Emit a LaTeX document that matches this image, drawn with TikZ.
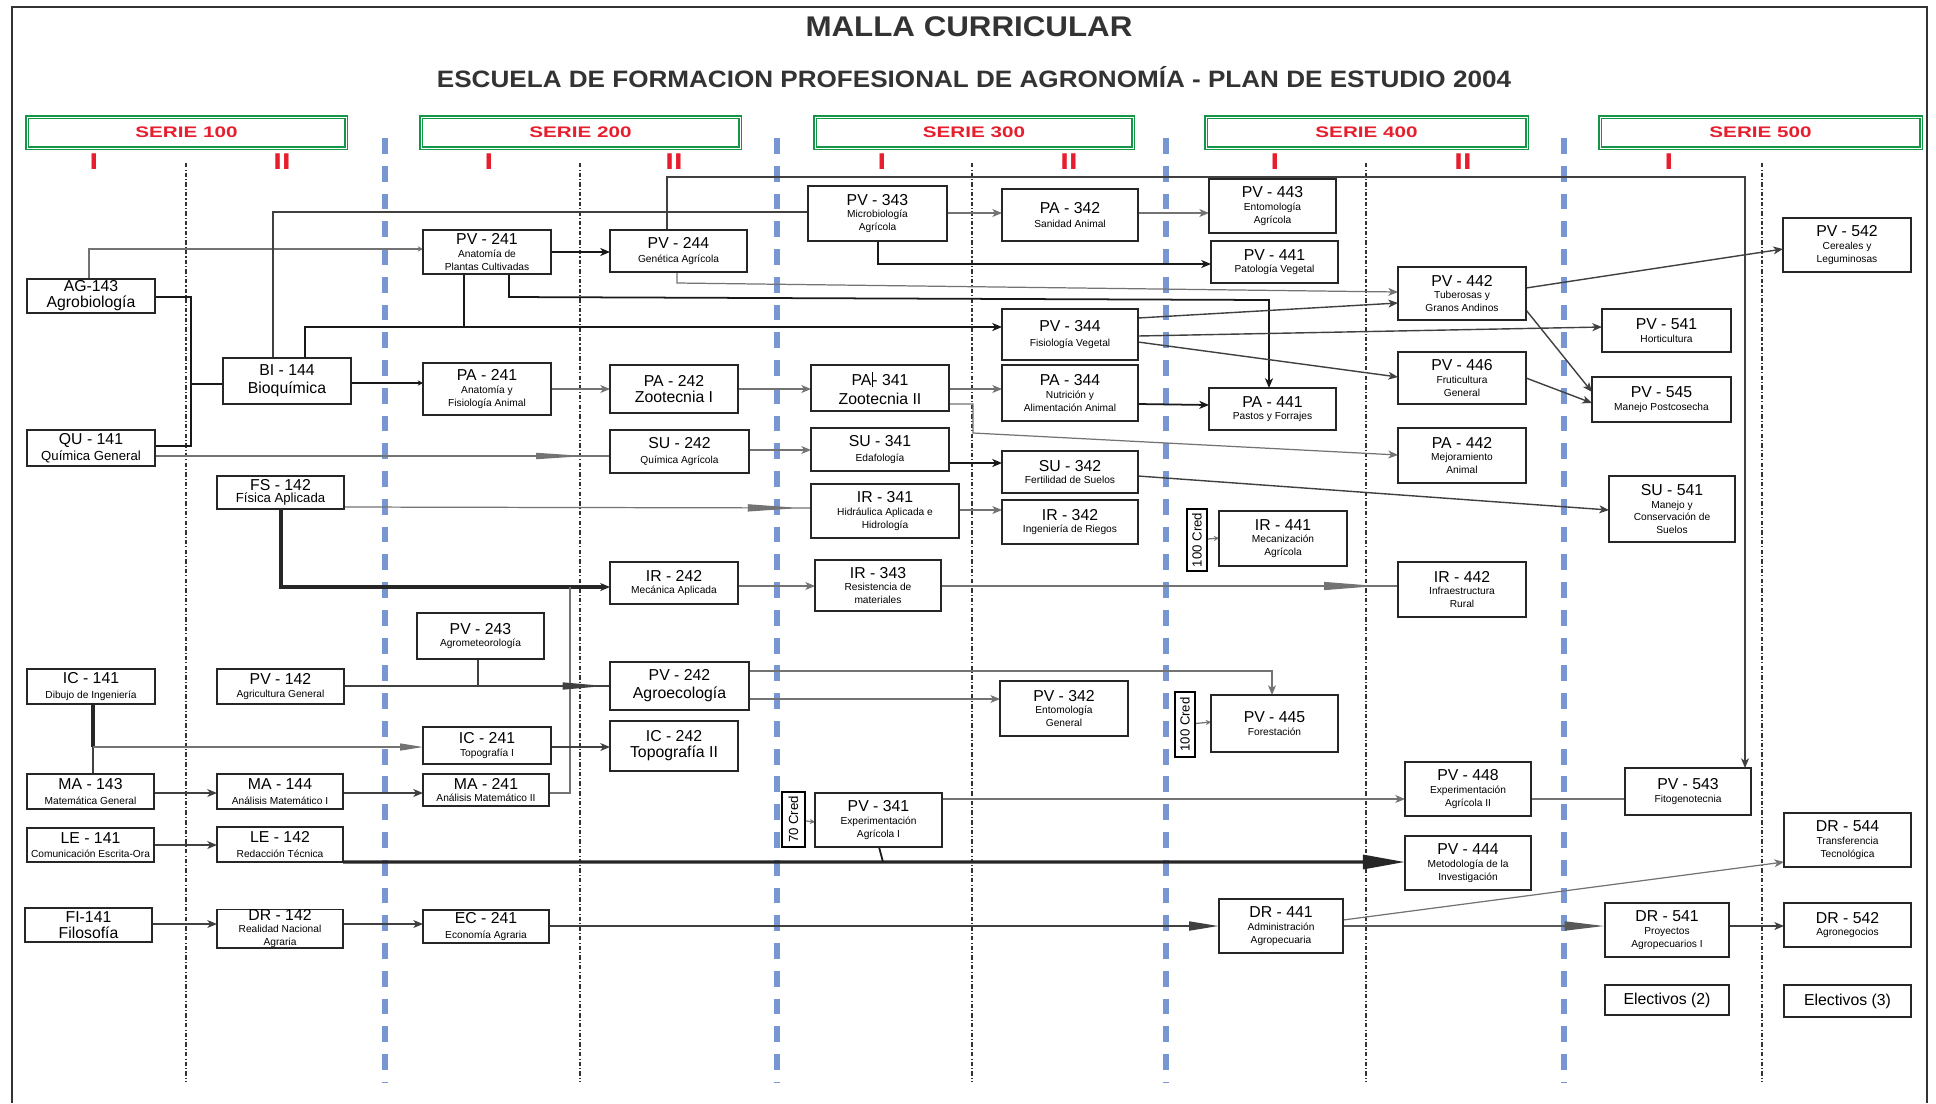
\documentclass[tikz,border=0pt]{standalone}
\usepackage{fontspec}
\setmainfont{Liberation Sans}
\newfontfamily\widefont[FakeStretch=1.35]{Liberation Sans}
\newfontfamily\titlefont[FakeStretch=1.1]{Liberation Sans}
\usetikzlibrary{arrows.meta,decorations.markings}
\pgfdeclarelayer{back}
\pgfdeclarelayer{mid}
\pgfsetlayers{back,mid,main}
\definecolor{sred}{RGB}{230,30,45}
\definecolor{sgreen}{RGB}{20,150,70}
\definecolor{sblue}{RGB}{120,150,210}
\newcommand\tcode[1]{{\fontsize{9}{9}\selectfont #1}}
\newcommand\tsmall[1]{{\fontsize{5.8}{6}\selectfont #1}}
\newcommand\tmid[1]{{\fontsize{7.5}{8}\selectfont #1}}
\newcommand\crsbox[6]{\node[crs, minimum width={(#4-#2)*0.02cm}, minimum height={(#5-#3)*0.02cm}] (#1) at ({(#2+#4)/2},{(#3+#5)/2}) {#6};}
\tikzset{
  crs/.style={draw=black!85, line width=0.9pt, fill=white, inner sep=0pt, outer sep=0pt, align=center, font=\fontsize{6}{7.2}\selectfont},
  cred/.style={draw=black, line width=1.1pt, fill=white, rotate=90, inner sep=0pt, outer sep=0pt, font=\fontsize{7.5}{8}\selectfont},
  serie/.style={draw=sgreen, double=white, line width=0.95pt, double distance=0.5pt, inner sep=0pt, text=sred, font=\widefont\bfseries\fontsize{8.7}{10}\selectfont},
  rom/.style={text=sred, font=\widefont\bfseries\fontsize{13}{13}\selectfont},
  bdash/.style={draw=sblue, line width=3pt, dash pattern=on 9pt off 6.8pt},
  ddot/.style={draw=black!80, line width=0.6pt, dash pattern=on 2.5pt off 1.2pt on 0.6pt off 1.2pt},
  gl/.style={line width=0.7pt, draw=black!55},
  dl/.style={line width=0.8pt, draw=black!75},
  bl/.style={line width=1pt, draw=black!90},
  thk/.style={line width=1.8pt, draw=black!85},
  ar/.style={-{Stealth[length=5.5pt,width=4.5pt,inset=1.5pt]}},
  sar/.style={-{Stealth[length=3pt,width=3pt]}},
  wedge/.style n args={3}{postaction={decorate}, decoration={markings, mark=at position #1 with {\arrow{Triangle[length=#2,width=#3]}}}},
}
\begin{document}
\begin{tikzpicture}[x=0.02cm,y=-0.02cm]
\useasboundingbox (0,0) rectangle (1936,1103);

% ---------- titles and headers
\node[font=\titlefont\bfseries\fontsize{16.2}{17}\selectfont, text=black!80] (title) at (969,27) {MALLA CURRICULAR};
\node[font=\titlefont\bfseries\fontsize{13.5}{15}\selectfont, text=black!80] (subtitle) at (974,77) {ESCUELA DE FORMACION PROFESIONAL DE AGRONOMÍA - PLAN DE ESTUDIO 2004};

\node[serie, minimum width={319*0.02cm}, minimum height={31*0.02cm}] (s100) at (186.5,132.5) {SERIE 100};
\node[serie, minimum width={319*0.02cm}, minimum height={31*0.02cm}] (s200) at (580.5,132.5) {SERIE 200};
\node[serie, minimum width={318*0.02cm}, minimum height={31*0.02cm}] (s300) at (974,132.5) {SERIE 300};
\node[serie, minimum width={321*0.02cm}, minimum height={31*0.02cm}] (s400) at (1366.5,132.5) {SERIE 400};
\node[serie, minimum width={321*0.02cm}, minimum height={31*0.02cm}] (s500) at (1760.5,132.5) {SERIE 500};

\node[rom] (r1a) at (94,162) {I};
\node[rom] (r1b) at (282,162) {II};
\node[rom] (r2a) at (489,162) {I};
\node[rom] (r2b) at (674,162) {II};
\node[rom] (r3a) at (882,162) {I};
\node[rom] (r3b) at (1069,162) {II};
\node[rom] (r4a) at (1275,162) {I};
\node[rom] (r4b) at (1463,162) {II};
\node[rom] (r5a) at (1669,162) {I};

% ---------- frame and guide lines
\begin{pgfonlayer}{back}
\draw[line width=1.6pt, black!80] (12,1103) -- (12,7) -- (1927,7) -- (1927,1103);
\foreach \xx in {385,777,1166,1564} {\draw[bdash] (\xx,138) -- (\xx,1082);}
\foreach \xx in {186,580,972,1366,1762} {\draw[ddot] (\xx,163) -- (\xx,1082);}
\end{pgfonlayer}

% ---------- SERIE 100
\crsbox{ag}{27}{279}{155}{313}{\tcode{AG-143}\\[2pt]\tcode{Agrobiología}}
\crsbox{qu}{27}{430}{155}{466}{\tcode{QU - 141}\\[1pt]\tmid{Química General}}
\crsbox{bi}{223}{358}{351}{404}{\tcode{BI - 144}\\[3pt]\tcode{Bioquímica}}
\crsbox{fs}{217}{476}{344}{509}{\tcode{FS - 142}\\\tmid{Física Aplicada}}
\crsbox{ic141}{27}{669}{155}{704}{\tcode{IC - 141}\\[1pt]\tsmall{Dibujo de Ingeniería}}
\crsbox{pv142}{217}{669}{344}{704}{\tcode{PV - 142}\\\tsmall{Agricultura General}}
\crsbox{ma143}{27}{774}{154}{809}{\tcode{MA - 143}\\[1pt]\tsmall{Matemática General}}
\crsbox{ma144}{217}{774}{343}{809}{\tcode{MA - 144}\\[1pt]\tsmall{Análisis Matemático I}}
\crsbox{le141}{27}{828}{154}{862}{\tcode{LE - 141}\\[1pt]\tsmall{Comunicación Escrita-Ora}}
\crsbox{le142}{217}{827}{343}{862}{\tcode{LE - 142}\\[1pt]\tsmall{Redacción Técnica}}
\crsbox{fi141}{25}{908}{152}{942}{\tcode{FI-141}\\[2pt]\tcode{Filosofía}}
\crsbox{dr142}{217}{910}{343}{947}{\tcode{DR - 142}\\\tsmall{Realidad Nacional}\\\tsmall{Agraria}}

% ---------- SERIE 200
\crsbox{pv241}{423}{230}{551}{274}{\tcode{PV - 241}\\\tsmall{Anatomía de}\\\tsmall{Plantas Cultivadas}}
\crsbox{pa241}{423}{363}{551}{415}{\tcode{PA - 241}\\\tsmall{Anatomía y}\\\tsmall{Fisiología Animal}}
\crsbox{pv243}{417}{613}{544}{659}{\tcode{PV - 243}\\\tsmall{Agrometeorología}}
\crsbox{ic241}{423}{727}{551}{764}{\tcode{IC - 241}\\\tsmall{Topografía I}}
\crsbox{ma241}{423}{774}{549}{806}{\tcode{MA - 241}\\\tsmall{Análisis Matemático II}}
\crsbox{ec241}{423}{910}{549}{943}{\tcode{EC - 241}\\[1pt]\tsmall{Economía Agraria}}
\crsbox{pv244}{610}{230}{747}{272}{\tcode{PV - 244}\\[1pt]\tsmall{Genética Agrícola}}
\crsbox{pa242}{610}{365}{738}{413}{\tcode{PA - 242}\\[2pt]\tcode{Zootecnia I}}
\crsbox{su242}{610}{430}{749}{473}{\tcode{SU - 242}\\[1pt]\tsmall{Química Agrícola}}
\crsbox{ir242}{610}{562}{738}{604}{\tcode{IR - 242}\\\tsmall{Mecánica Aplicada}}
\crsbox{pv242}{610}{662}{749}{710}{\tcode{PV - 242}\\[3pt]\tcode{Agroecología}}
\crsbox{ic242}{610}{721}{738}{771}{\tcode{IC - 242}\\[2pt]\tcode{Topografía II}}

% ---------- SERIE 300
\crsbox{pv343}{808}{186}{947}{241}{\tcode{PV - 343}\\\tsmall{Microbiología}\\\tsmall{Agrícola}}
\crsbox{pa341}{811}{365}{949}{411}{\tcode{PA\rule[-1pt]{0.5pt}{9pt}- 341}\\[2pt]\tcode{Zootecnia II}}
\crsbox{su341}{811}{428}{949}{471}{\tcode{SU - 341}\\[1pt]\tsmall{Edafología}}
\crsbox{ir341}{811}{484}{959}{538}{\tcode{IR - 341}\\\tsmall{Hidráulica Aplicada e}\\\tsmall{Hidrología}}
\crsbox{ir343}{815}{560}{941}{611}{\tcode{IR - 343}\\\tsmall{Resistencia de}\\\tsmall{materiales}}
\crsbox{pv341}{815}{793}{942}{847}{\tcode{PV - 341}\\\tsmall{Experimentación}\\\tsmall{Agrícola I}}
\crsbox{pa342}{1002}{189}{1138}{241}{\tcode{PA - 342}\\[1pt]\tsmall{Sanidad Animal}}
\crsbox{pv344}{1002}{309}{1138}{360}{\tcode{PV - 344}\\[1pt]\tsmall{Fisiología Vegetal}}
\crsbox{pa344}{1002}{365}{1138}{421}{\tcode{PA - 344}\\\tsmall{Nutrición y}\\\tsmall{Alimentación Animal}}
\crsbox{su342}{1002}{451}{1138}{493}{\tcode{SU - 342}\\\tsmall{Fertilidad de Suelos}}
\crsbox{ir342}{1002}{500}{1138}{544}{\tcode{IR - 342}\\\tsmall{Ingeniería de Riegos}}
\crsbox{pv342}{1000}{681}{1128}{736}{\tcode{PV - 342}\\\tsmall{Entomología}\\\tsmall{General}}
\node[cred, minimum width={55*0.02cm}, minimum height={23*0.02cm}] (cred70) at (793.5,819.5) {70 Cred};

% ---------- SERIE 400
\crsbox{pv443}{1209}{179}{1336}{233}{\tcode{PV - 443}\\\tsmall{Entomología}\\\tsmall{Agrícola}}
\crsbox{pv441}{1211}{241}{1338}{283}{\tcode{PV - 441}\\\tsmall{Patología Vegetal}}
\crsbox{pa441}{1209}{388}{1336}{430}{\tcode{PA - 441}\\\tsmall{Pastos y Forrajes}}
\crsbox{ir441}{1219}{511}{1347}{566}{\tcode{IR - 441}\\\tsmall{Mecanización}\\\tsmall{Agrícola}}
\crsbox{pv445}{1211}{695}{1338}{752}{\tcode{PV - 445}\\\tsmall{Forestación}}
\crsbox{dr441}{1219}{899}{1343}{953}{\tcode{DR - 441}\\\tsmall{Administración}\\\tsmall{Agropecuaria}}
\crsbox{pv442}{1398}{267}{1526}{320}{\tcode{PV - 442}\\\tsmall{Tuberosas y}\\\tsmall{Granos Andinos}}
\crsbox{pv446}{1398}{352}{1526}{404}{\tcode{PV - 446}\\\tsmall{Fruticultura}\\\tsmall{General}}
\crsbox{pa442}{1398}{428}{1526}{483}{\tcode{PA - 442}\\\tsmall{Mejoramiento}\\\tsmall{Animal}}
\crsbox{ir442}{1398}{562}{1526}{617}{\tcode{IR - 442}\\\tsmall{Infraestructura}\\\tsmall{Rural}}
\crsbox{pv448}{1405}{762}{1531}{816}{\tcode{PV - 448}\\\tsmall{Experimentación}\\\tsmall{Agrícola II}}
\crsbox{pv444}{1405}{836}{1531}{890}{\tcode{PV - 444}\\\tsmall{Metodología de la}\\\tsmall{Investigación}}
\node[cred, minimum width={62*0.02cm}, minimum height={20*0.02cm}] (cred1) at (1197,540) {100 Cred};
\node[cred, minimum width={65*0.02cm}, minimum height={20*0.02cm}] (cred2) at (1185,724.5) {100 Cred};

% ---------- SERIE 500
\crsbox{pv541}{1602}{309}{1731}{352}{\tcode{PV - 541}\\\tsmall{Horticultura}}
\crsbox{pv545}{1592}{377}{1731}{422}{\tcode{PV - 545}\\\tsmall{Manejo Postcosecha}}
\crsbox{su541}{1609}{476}{1735}{542}{\tcode{SU - 541}\\\tsmall{Manejo y}\\\tsmall{Conservación de}\\\tsmall{Suelos}}
\crsbox{pv543}{1625}{768}{1751}{815}{\tcode{PV - 543}\\\tsmall{Fitogenotecnia}}
\crsbox{dr541}{1605}{903}{1729}{957}{\tcode{DR - 541}\\\tsmall{Proyectos}\\\tsmall{Agropecuarios I}}
\crsbox{el2}{1605}{985}{1729}{1015}{\tcode{Electivos (2)}}
\crsbox{pv542}{1783}{218}{1911}{272}{\tcode{PV - 542}\\\tsmall{Cereales y}\\\tsmall{Leguminosas}}
\crsbox{dr544}{1784}{813}{1911}{867}{\tcode{DR - 544}\\\tsmall{Transferencia}\\\tsmall{Tecnológica}}
\crsbox{dr542}{1784}{903}{1911}{947}{\tcode{DR - 542}\\\tsmall{Agronegocios}}
\crsbox{el3}{1784}{985}{1911}{1017}{\tcode{Electivos (3)}}

% ---------- connectors
\begin{pgfonlayer}{mid}
\draw[gl,sar] (ag.north -| 89,0) |- (pv241.west |- 0,249);
\draw[bl] (ag.east |- 0,297) -| (191,446) -- (qu.east |- 0,446);
\draw[bl] (191,384) -- (bi.west |- 0,384);
\draw[dl] (bi.north -| 273,0) |- (pv343.west |- 0,212);
\draw[bl,ar] (bi.north -| 305,0) |- (pv344.west |- 0,327);
\draw[bl] (pv241.south -| 464,0) -- (464,327);
\draw[bl,sar] (bi.east |- 0,383) -- (pa241.west |- 0,383);
\draw[gl,wedge={-14pt}{28pt}{3.5pt}] (qu.east |- 0,456) -- (su242.west |- 0,456);
\draw[gl,wedge={-6pt}{30pt}{4pt}] (fs.east |- 0,507) -- (ir341.west |- 0,508);
\draw[thk,ar] (fs.south -| 281,0) |- (ir242.west |- 0,587);
\draw[gl] (ma241.east |- 0,793) -| (570,587);

\draw[bl,ar] (pv241.east |- 0,252) -- (pv244.west |- 0,252);
\draw[dl,ar] (pv244.north -| 667,0) |- (1745,177) -- (pv543.north -| 1745,0);
\draw[gl,ar] (pv244.south -| 677,0) -- (677,283) -- (pv442.west |- 0,292);
\draw[bl,ar] (pv241.south -| 509,0) -- (509,297) -- (1269,300) -- (pa441.north -| 1269,0);
\draw[gl,ar] (pv343.east |- 0,213) -- (pa342.west |- 0,213);
\draw[gl,ar] (pa342.east |- 0,213) -- (pv443.west |- 0,213);
\draw[bl,ar] (pv343.south -| 878,0) |- (pv441.west |- 0,264);
\draw[dl,ar] (pv344.east |- 0,318) -- (pv442.west |- 0,303);
\draw[dl,ar] (pv344.east |- 0,336) -- (pv541.west |- 0,327);
\draw[dl,ar] (pv344.east |- 0,342) -- (pv446.west |- 0,377);
\draw[dl,ar] (pv442.east |- 0,288) -- (pv542.west |- 0,249);
\draw[dl,ar] (pv442.east |- 0,310) -- (pv545.west |- 0,392);
\draw[dl,ar] (pv446.east |- 0,378) -- (pv545.west |- 0,403);

\draw[gl,ar] (pa241.east |- 0,389) -- (pa242.west |- 0,389);
\draw[gl,ar] (pa242.east |- 0,389) -- (pa341.west |- 0,389);
\draw[gl,ar] (pa341.east |- 0,389) -- (pa344.west |- 0,389);
\draw[gl,ar] (pa341.east |- 0,404) -| (973,433) -- (pa442.west |- 0,455);
\draw[bl,ar] (pa344.east |- 0,404) -- (pa441.west |- 0,405);
\draw[gl,ar] (su242.east |- 0,450) -- (su341.west |- 0,450);
\draw[bl,ar] (su341.east |- 0,463) -- (su342.west |- 0,463);
\draw[dl,ar] (su342.east |- 0,476) -- (su541.west |- 0,510);
\draw[gl,ar] (ir341.east |- 0,510) -- (ir342.west |- 0,510);
\draw[gl,ar] (ir242.east |- 0,586) -- (ir343.west |- 0,586);
\draw[gl,wedge={-12pt}{30pt}{4.5pt}] (ir343.east |- 0,586) -- (ir442.west |- 0,586);
\draw[gl,sar] (cred1) -- (ir441.west |- 0,538);
\draw[gl,sar] (cred2) -- (pv445.west |- 0,722);
\draw[gl,sar] (cred70) -- (pv341.west |- 0,822);

\draw[gl,ar] (pv242.east |- 0,671) -| (pv445.north -| 1272,0);
\draw[gl,ar] (pv242.east |- 0,699) -- (pv342.west |- 0,699);
\draw[dl,wedge={-3pt}{24pt}{4pt}] (pv142.east |- 0,686) -- (pv242.west |- 0,686);
\draw[dl] (pv243.south -| 478,0) -- (478,686);
\draw[thk] (ic141.south -| 93,0) -- (93,747);
\draw[dl] (93,747) -- (ma143.north -| 93,0);
\draw[gl,-{Triangle[length=13pt,width=4pt]}] (93,747) -- (ic241.west |- 0,747);
\draw[dl,ar] (ic241.east |- 0,747) -- (ic242.west |- 0,747);
\draw[dl,ar] (ma143.east |- 0,793) -- (ma144.west |- 0,793);
\draw[dl,ar] (ma144.east |- 0,793) -- (ma241.west |- 0,793);
\draw[dl,ar] (le141.east |- 0,845) -- (le142.west |- 0,845);
\draw[thk,-{Triangle[length=24pt,width=8pt]}] (le142.south east) -- (pv444.west |- 0,862);
\draw[bl] (pv341.south -| 879,0) -- (883,862);
\draw[gl,ar] (pv341.east |- 0,799) -- (pv448.west |- 0,799);
\draw[gl] (pv448.east |- 0,799) -- (pv543.west |- 0,799);
\draw[dl,ar] (fi141.east |- 0,924) -- (dr142.west |- 0,924);
\draw[dl,ar] (dr142.east |- 0,924) -- (ec241.west |- 0,924);
\draw[line width=1.4pt,draw=black!75,-{Triangle[length=17pt,width=5pt]}] (ec241.east |- 0,926) -- (dr441.west |- 0,926);
\draw[line width=1.4pt,draw=black!65,-{Triangle[length=23pt,width=5pt]}] (dr441.east |- 0,926) -- (dr541.west |- 0,926);
\draw[gl,ar] (dr441.east |- 0,920) -- (dr544.west |- 0,862);
\draw[dl,ar] (dr541.east |- 0,926) -- (dr542.west |- 0,926);
\end{pgfonlayer}
\end{tikzpicture}
\end{document}
